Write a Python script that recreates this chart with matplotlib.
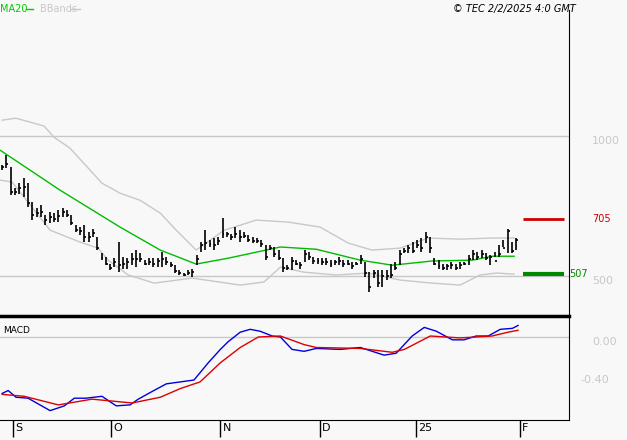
import matplotlib
matplotlib.use('Agg')
import matplotlib.pyplot as plt
import numpy as np

# daily bars (Sep 2024 - Jan 2025)
highs = [896, 932, 890, 813, 831, 849, 831, 766, 742, 754,
         718, 730, 724, 736, 742, 736, 718, 682, 676, 682,
         658, 670, 641, 581, 569, 545, 563, 623, 569, 563,
         581, 593, 581, 557, 563, 563, 563, 587, 569, 551,
         539, 522, 510, 522, 527, 575, 623, 664, 629, 635,
         641, 706, 658, 652, 676, 664, 658, 647, 641, 635,
         629, 611, 611, 605, 593, 563, 539, 569, 557, 551,
         593, 587, 569, 563, 563, 563, 557, 557, 569, 557,
         557, 551, 551, 575, 551, 516, 522, 522, 522, 522,
         545, 551, 593, 599, 611, 623, 629, 635, 658, 641,
         563, 557, 545, 545, 551, 545, 551, 551, 575, 593,
         587, 593, 581, 575, 587, 611, 629, 670, 623, 635]
lows = [879, 885, 789, 789, 795, 783, 748, 700, 712, 712,
        682, 688, 694, 694, 712, 712, 682, 658, 647, 623,
        623, 641, 593, 557, 539, 522, 533, 516, 527, 527,
        539, 533, 551, 539, 539, 533, 533, 533, 539, 533,
        510, 504, 500, 504, 498, 539, 587, 593, 605, 593,
        611, 635, 641, 629, 635, 623, 635, 623, 617, 617,
        605, 557, 593, 569, 557, 516, 522, 522, 539, 527,
        551, 557, 545, 545, 539, 539, 533, 539, 539, 533,
        539, 527, 539, 545, 498, 444, 492, 462, 462, 486,
        492, 522, 539, 581, 581, 581, 599, 587, 617, 581,
        539, 527, 522, 522, 527, 522, 527, 539, 539, 557,
        557, 563, 557, 539, 569, 569, 605, 581, 581, 593]
closes = [888, 900, 800, 800, 815, 820, 760, 720, 725, 730,
          700, 710, 705, 715, 730, 720, 690, 665, 660, 640,
          640, 655, 600, 565, 545, 530, 550, 540, 545, 550,
          560, 560, 560, 545, 550, 545, 555, 560, 550, 540,
          520, 510, 505, 510, 515, 560, 610, 620, 615, 610,
          625, 650, 650, 640, 650, 640, 645, 630, 625, 625,
          615, 570, 600, 580, 565, 530, 530, 555, 545, 540,
          580, 570, 555, 555, 550, 550, 545, 550, 555, 545,
          545, 535, 545, 560, 510, 460, 510, 475, 500, 500,
          505, 530, 580, 590, 600, 590, 610, 600, 640, 600,
          545, 535, 530, 535, 540, 530, 540, 545, 560, 580,
          570, 580, 565, 570, 555, 580, 600, 660, 590, 630]

# indicator lines (bar index, value)
ma_x = [-0.5, 13.4, 27.3, 36.6, 44.9, 52.3, 64.4, 72.7, 82.9, 90.3, 99.5, 108.8, 113.4, 118.5]
ma_y = [950, 807, 675, 593, 543, 564, 604, 596, 557, 539, 554, 557, 571, 571]
bb_up_x = [0, 3.2, 9.7, 12.0, 15.7, 23.1, 27.3, 31.9, 36.6, 40.3, 44.9, 51.4, 58.8,
           66.2, 73.6, 80.1, 85.6, 92.1, 98.6, 106.0, 113.4, 118.5]
bb_up_y = [1057, 1064, 1036, 996, 957, 832, 796, 771, 725, 664, 593, 664, 700,
           693, 675, 618, 593, 600, 636, 632, 636, 636]
bb_lo_x = [-0.5, 2.3, 6.9, 11.1, 18.1, 22.2, 24.5, 29.2, 35.2, 44.0, 55.1, 60.6, 64.4,
           69.9, 77.3, 84.7, 92.1, 99.5, 106.0, 110.6, 114.4, 118.5]
bb_lo_y = [843, 836, 746, 664, 621, 600, 557, 504, 475, 493, 468, 479, 532,
           514, 504, 511, 486, 475, 468, 504, 511, 507]

macd_x = [0, 1.4, 3.2, 6.0, 11.1, 14.4, 16.7, 19.4, 23.1, 26.4, 29.6, 31.5, 34.7, 38.0,
          41.2, 44.4, 47.7, 50.5, 52.3, 55.1, 57.4, 59.7, 62.5, 64.4, 67.1, 69.9, 72.7,
          78.2, 82.9, 88.4, 91.2, 94.9, 97.7, 100.5, 104.2, 106.9, 109.7, 112.5, 115.3,
          118.1, 119.4]
macd_y = [-0.59, -0.56, -0.63, -0.64, -0.77, -0.72, -0.64, -0.64, -0.62, -0.72, -0.71,
          -0.65, -0.57, -0.49, -0.47, -0.45, -0.27, -0.13, -0.05, 0.05, 0.08, 0.06, 0.01,
          0.0, -0.13, -0.15, -0.12, -0.13, -0.11, -0.19, -0.17, 0.01, 0.10, 0.06, -0.03,
          -0.03, 0.01, 0.01, 0.08, 0.09, 0.12]
sig_x = [0, 5.1, 13.0, 20.8, 30.1, 36.6, 41.2, 45.8, 50.5, 55.1, 59.3, 64.4, 69.9,
         72.7, 82.9, 90.3, 93.1, 99.1, 106.0, 113.4, 117.1, 119.4]
sig_y = [-0.60, -0.62, -0.71, -0.65, -0.69, -0.63, -0.54, -0.47, -0.27, -0.11, 0.0,
         0.01, -0.08, -0.11, -0.12, -0.16, -0.13, 0.01, -0.01, 0.01, 0.05, 0.07]

tick_pos = [2.5, 25.2, 50.5, 73.6, 95.8, 119.9]
tick_labels = ['S', 'O', 'N', 'D', '25', 'F']
resistance = 705
support = 507

bg = '#f8f8f8'
grey = '#c8c8c8'
fig = plt.figure(figsize=(6.27, 4.40), dpi=100, facecolor=bg)
ax = fig.add_axes([0, 0.284, 0.9075, 0.693], facecolor=bg)
ax2 = fig.add_axes([0, 0.045, 0.9075, 0.237], facecolor=bg)
xlim = (-0.5, 131.2)

idx = np.arange(len(closes))
ax.axhline(1000, color=grey, lw=1)
ax.axhline(500, color=grey, lw=1)
ax.plot(bb_up_x, bb_up_y, color=grey, lw=1)
ax.plot(bb_lo_x, bb_lo_y, color=grey, lw=1)
ax.plot(ma_x, ma_y, color='#00bb00', lw=1)
ax.vlines(idx, lows, highs, color='black', lw=1.2)
ax.hlines(closes, idx, idx + 0.45, color='black', lw=1.2)
ax.hlines(resistance, 120.5, 130, color='#cc0000', lw=2)
ax.hlines(support, 120.5, 130, color='#008800', lw=3)
ax.set_xlim(xlim)
ax.set_ylim(361, 1450)
ax.set_xticks([])
ax.set_yticks([])
for s in ['left', 'top', 'bottom']:
    ax.spines[s].set_visible(False)
ax.spines['right'].set_color('black')

fs = 7
ax.text(1.04, 1000, '1000', transform=ax.get_yaxis_transform(), color=grey,
        fontsize=fs + 1, va='top')
ax.text(1.04, 500, '500', transform=ax.get_yaxis_transform(), color=grey,
        fontsize=fs + 1, va='top')
ax.text(1.04, resistance, str(resistance), transform=ax.get_yaxis_transform(),
        color='#cc0000', fontsize=fs, va='center')
ax.text(1.0, support, str(support), transform=ax.get_yaxis_transform(),
        color='#008800', fontsize=fs, va='center')

fig.text(0.0, 0.99, 'MA20', color='#00cc00', fontsize=fs, va='top')
fig.add_artist(plt.Line2D([0.041, 0.053], [0.98, 0.98], color='#00cc00', lw=1))
fig.text(0.064, 0.99, 'BBands', color=grey, fontsize=fs, va='top')
fig.add_artist(plt.Line2D([0.113, 0.128], [0.98, 0.98], color=grey, lw=1))
fig.text(0.918, 0.99, '\u00a9 TEC 2/2/2025 4:0 GMT', fontsize=fs, style='italic',
         ha='right', va='top')

ax2.axhline(0, color=grey, lw=1)
ax2.plot(macd_x, macd_y, color='#0000dd', lw=1)
ax2.plot(sig_x, sig_y, color='#dd0000', lw=1)
ax2.set_xlim(xlim)
ax2.set_ylim(-0.87, 0.22)
ax2.set_yticks([])
ax2.set_xticks(tick_pos)
ax2.set_xticklabels([])
ax2.tick_params(axis='x', direction='out', length=12, width=1, color='black')
ax2.spines['left'].set_visible(False)
ax2.spines['top'].set_linewidth(2.5)
for i, lab in zip(tick_pos, tick_labels):
    ax2.text(i + 0.5, -0.025, lab, transform=ax2.get_xaxis_transform(),
             fontsize=fs + 1, va='top')
ax2.text(0.005, 0.9, 'MACD', transform=ax2.transAxes, fontsize=fs - 0.5, va='top')
ax2.text(1.04, 0.0, '0.00', transform=ax2.get_yaxis_transform(), color=grey,
         fontsize=fs + 1, va='top')
ax2.text(1.02, -0.4, '-0.40', transform=ax2.get_yaxis_transform(), color=grey,
         fontsize=fs + 1, va='top')

fig.savefig('out.png', dpi=100, facecolor=bg)
